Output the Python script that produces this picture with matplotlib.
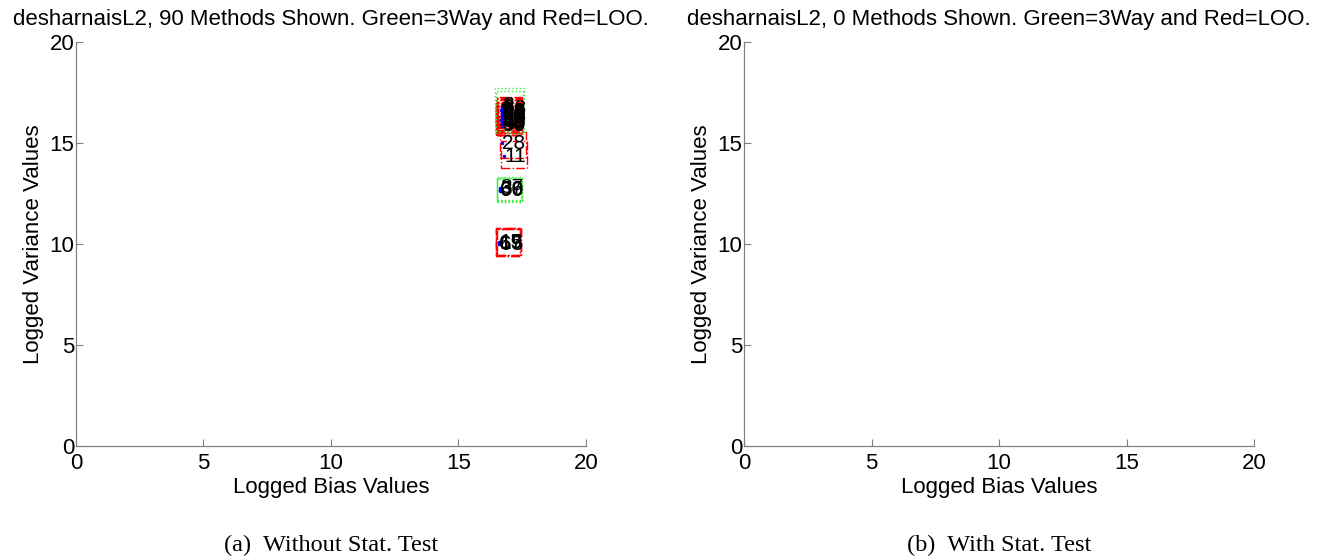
import matplotlib
matplotlib.use("Agg")
import matplotlib.pyplot as plt
from matplotlib.patches import Rectangle

# method numbers, logged bias/variance and their spread, and the split used
method_ids = [3, 8, 9, 13, 18, 20, 23, 29, 30, 33, 38, 40, 48, 50, 59, 68, 80, 90,
              6, 36, 28, 11, 37, 39, 60, 66, 15, 17, 65, 69]
bias = [16.70, 16.72, 16.68, 16.74, 16.71, 16.69, 16.73, 16.70, 16.72, 16.68,
        16.71, 16.74, 16.69, 16.72, 16.70, 16.73, 16.71, 16.70,
        16.70, 16.72, 16.70, 16.80, 16.62, 16.64, 16.62, 16.63,
        16.60, 16.62, 16.61, 16.60]
variance = [16.85, 16.75, 16.65, 16.55, 16.48, 16.40, 16.33, 16.26, 16.20, 16.13,
            16.06, 16.00, 15.95, 15.90, 15.86, 16.70, 16.45, 16.30,
            16.60, 16.50, 15.00, 14.35, 12.78, 12.72, 12.65, 12.68,
            10.10, 10.05, 9.98, 10.02]
bias_lo = [16.50, 16.52, 16.48, 16.53, 16.50, 16.49, 16.52, 16.50, 16.51, 16.48,
           16.50, 16.53, 16.49, 16.51, 16.50, 16.52, 16.50, 16.49,
           16.45, 16.47, 16.63, 16.65, 16.50, 16.52, 16.50, 16.51,
           16.48, 16.50, 16.49, 16.48]
bias_hi = [17.48, 17.50, 17.46, 17.52, 17.49, 17.47, 17.51, 17.48, 17.50, 17.46,
           17.49, 17.52, 17.47, 17.50, 17.48, 17.51, 17.49, 17.48,
           17.55, 17.53, 17.65, 17.70, 17.50, 17.48, 17.49, 17.47,
           17.45, 17.43, 17.44, 17.42]
var_lo = [16.30, 16.20, 16.10, 16.00, 15.95, 15.85, 15.80, 15.72, 15.66, 15.60,
          15.52, 15.48, 15.42, 15.38, 15.40, 16.15, 15.90, 15.75,
          15.50, 15.60, 14.25, 13.75, 12.10, 12.15, 12.12, 12.18,
          9.40, 9.45, 9.42, 9.48]
var_hi = [17.30, 17.25, 17.15, 17.05, 17.00, 16.92, 16.85, 16.80, 16.72, 16.65,
          16.60, 16.52, 16.48, 16.42, 16.35, 17.20, 16.98, 16.85,
          17.70, 17.60, 15.55, 15.10, 13.30, 13.25, 13.22, 13.28,
          10.80, 10.75, 10.72, 10.78]
split = ["LOO"] * 18 + ["3Way", "3Way", "LOO", "LOO",
                        "3Way", "3Way", "3Way", "3Way",
                        "LOO", "LOO", "LOO", "LOO"]

dataset = "desharnaisL2"
panel_counts = [90, 0]
captions = ["(a)  Without Stat. Test", "(b)  With Stat. Test"]
ticks = [0, 5, 10, 15, 20]

box_style = {"LOO": dict(color="red", ls="-."), "3Way": dict(color="#33ee33", ls=":")}

SANS = ["Liberation Sans", "DejaVu Sans"]
SERIF = ["Liberation Serif", "DejaVu Serif"]
GRAY = "#808080"
FS = 16

fig = plt.figure(figsize=(13.3, 5.59), dpi=100)
lefts = [0.0571, 0.5594]

for k, (left, count, cap) in enumerate(zip(lefts, panel_counts, captions)):
    ax = fig.add_axes([left, 0.2021, 0.3835, 0.7227])
    ax.set_xlim(0, 20)
    ax.set_ylim(0, 20)
    ax.set_xticks(ticks)
    ax.set_yticks(ticks)
    for side in ["top", "right"]:
        ax.spines[side].set_visible(False)
    for side in ["left", "bottom"]:
        ax.spines[side].set_color(GRAY)
        ax.spines[side].set_linewidth(0.9)
    ax.tick_params(direction="in", length=5, color=GRAY, labelsize=FS, pad=1)
    ax.tick_params(axis="x", pad=5)
    for lab in ax.get_xticklabels() + ax.get_yticklabels():
        lab.set_family(SANS)

    ax.set_xlabel("Logged Bias Values", fontsize=FS, family=SANS, labelpad=2)
    ax.set_ylabel("Logged Variance Values", fontsize=FS, family=SANS, labelpad=4)
    ax.set_title(f"{dataset}, {count} Methods Shown. Green=3Way and Red=LOO.",
                 fontsize=FS, family=SANS, pad=12.5)

    if count > 0:
        # spread boxes first, then the method points and their numbers on top
        for i in range(len(method_ids)):
            st = box_style[split[i]]
            ax.add_patch(Rectangle((bias_lo[i], var_lo[i]),
                                   bias_hi[i] - bias_lo[i], var_hi[i] - var_lo[i],
                                   fill=False, edgecolor=st["color"],
                                   linestyle=st["ls"], linewidth=1.0))
        ax.plot(bias, variance, ".", color="blue", markersize=3)
        for i in range(len(method_ids)):
            ax.text(bias[i], variance[i], str(method_ids[i]), fontsize=15,
                    family=SANS, ha="left", va="center", color="black")

    fig.text(left + 0.3835 / 2, 0.025, cap, ha="center", va="center",
             fontsize=17.5, family=SERIF)

fig.savefig("out.png", dpi=100)
